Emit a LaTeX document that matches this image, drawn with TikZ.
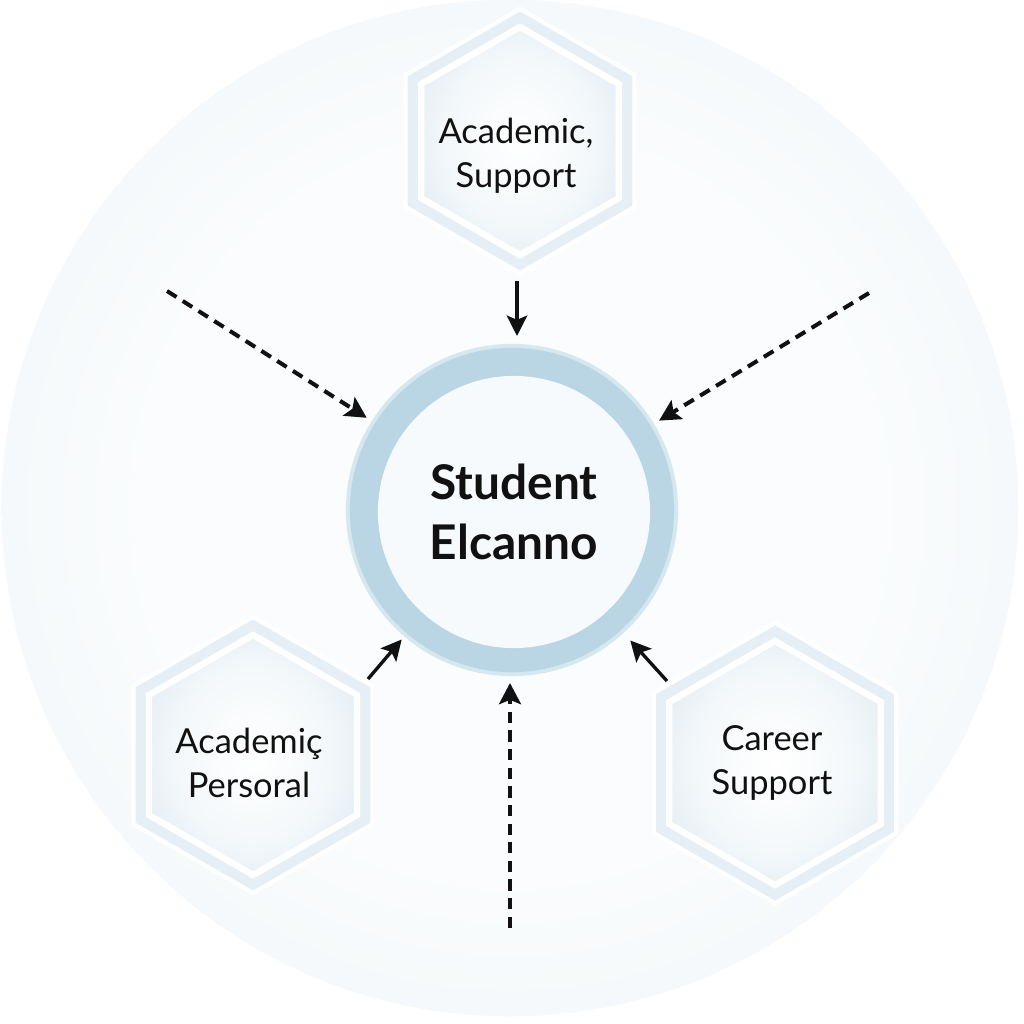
\documentclass[tikz,border=0pt]{standalone}
\usepackage{fontspec}
\setmainfont{Lato}
\usetikzlibrary{shapes.geometric,arrows.meta,calc}
\definecolor{bgout}{HTML}{E7F0F4}
\definecolor{bgmid}{HTML}{F0F5F8}
\definecolor{bgin}{HTML}{FAFCFD}
\definecolor{hexout}{HTML}{E5EFF5}
\definecolor{hexedge}{HTML}{D3E5EE}
\definecolor{hexcore}{HTML}{F4F8FA}
\definecolor{ringc}{HTML}{BAD6E4}
\definecolor{ringrim}{HTML}{D5E7EF}
\definecolor{corefill}{HTML}{F7FAFC}
\definecolor{ink}{HTML}{111111}
\pgfdeclareradialshading{bgshade}{\pgfpoint{0bp}{0bp}}{color(0bp)=(bgin); color(18bp)=(bgin); color(34bp)=(bgmid); color(50bp)=(bgout); color(100bp)=(bgout)}
\pgfdeclareradialshading{hexshade}{\pgfpoint{0bp}{0bp}}{color(0bp)=(white); color(18bp)=(hexcore); color(40bp)=(hexedge); color(100bp)=(hexedge)}
\tikzset{
  hexbase/.style={shape=regular polygon, regular polygon sides=6, shape border rotate=30, inner sep=0pt},
  hexback/.style={hexbase, fill=hexout, draw=white, line width=1.2pt},
  hexfront/.style={hexbase, draw=white, line width=1.8pt, shading=hexshade},
  hextext/.style={font=\fontsize{9.8}{12.4}\selectfont, text=ink, align=center, inner sep=0pt},
  coretext/.style={font=\bfseries\fontsize{13.6}{17.2}\selectfont, text=ink, align=center},
  dasharrow/.style={draw=ink, line width=1.15pt, dash pattern=on 3.2pt off 2.1pt, -{Stealth[length=6pt,width=6.2pt,inset=1.2pt]}},
  solidarrow/.style={draw=ink, line width=0.95pt, -{Stealth[length=5.8pt,width=5.8pt,inset=1.2pt]}}
}
\begin{document}
\begin{tikzpicture}[x=0.01cm,y=-0.01cm]
\useasboundingbox (0,0) rectangle (1024,1024);
\fill[white] (0,0) rectangle (1024,1024);
% large background disc
\node[circle, minimum size=10.16cm, inner sep=0pt, shading=bgshade] (bg) at (510,508) {};

% hexagons
\node[hexback, minimum size=2.64cm] (hacadb) at (520,141) {};
\node[hexfront, minimum size=2.28cm] (hacad) at (520,141) {};
\node[hextext] (tacad) at (516,156) {Academic,\\Support};

\node[hexback, minimum size=2.76cm] (hpersb) at (253,755) {};
\node[hexfront, minimum size=2.40cm] (hpers) at (253,755) {};
\node[hextext] (tpers) at (249,763) {Academiç\\Persoral};

\node[hexback, minimum size=2.80cm] (hcarb) at (775,763) {};
\node[hexfront, minimum size=2.44cm] (hcar) at (775,763) {};
\node[hextext] (tcar) at (772,763) {Career\\Support};

% central circle
\node[circle, minimum size=3.32cm, inner sep=0pt, fill=ringrim] (corerim) at (512,510) {};
\node[circle, minimum size=3.24cm, inner sep=0pt, fill=ringc] (corering) at (512,510) {};
\node[circle, minimum size=2.72cm, inner sep=0pt, fill=corefill, coretext] (core) at (514,512) {Student\\Elcanno};
\path (512,510) coordinate (cc);

% connector free ends
\coordinate (ul) at (167,291);
\coordinate (ur) at (869,293);
\coordinate (bt) at (510,928);
\coordinate (ta) at (517,281);
\coordinate (ll) at (368,679);
\coordinate (lr) at (667,681);

\draw[dasharrow, shorten >=0.06cm] (ul) -- ($(cc)!1.66cm!(ul)$);
\draw[dasharrow, shorten >=0.06cm] (ur) -- ($(cc)!1.66cm!(ur)$);
\draw[dasharrow] (bt) -- (510,683);
\draw[solidarrow] (ta) -- (517,336);
\draw[solidarrow] (ll) -- ($(cc)!1.70cm!(ll)$);
\draw[solidarrow] (lr) -- ($(cc)!1.76cm!(lr)$);
\end{tikzpicture}
\end{document}
